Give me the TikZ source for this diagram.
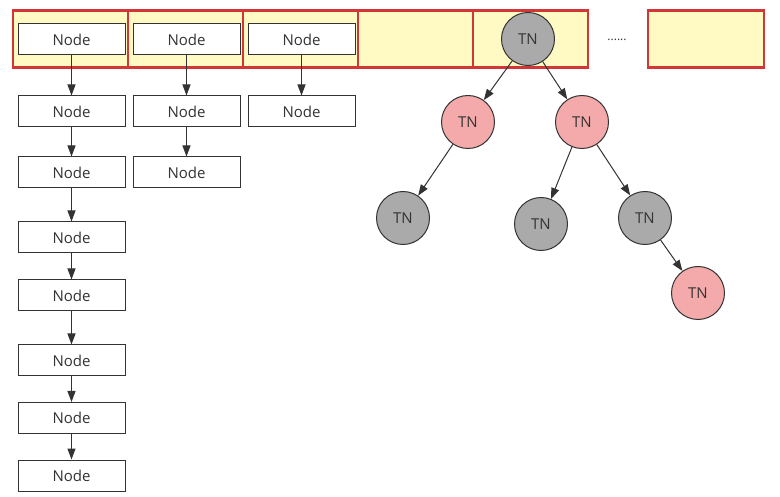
\documentclass[tikz,border=0pt]{standalone}
\usepackage{fontspec}
\setmainfont{Open Sans}
\usetikzlibrary{positioning, arrows.meta}
\definecolor{cellfill}{HTML}{FFF9C4}
\definecolor{cellline}{HTML}{D33636}
\definecolor{tngray}{HTML}{AAAAAA}
\definecolor{tnred}{HTML}{F4AAAA}
\definecolor{ink}{HTML}{333333}

\begin{document}
\begin{tikzpicture}[x=1pt, y=-1pt, font=\fontsize{15}{17}\selectfont,
    main/.style = {draw=ink, line width=1pt, fill=white, minimum width=107pt, minimum height=31pt, inner sep=0pt, text=ink},
    tn/.style = {draw=ink, circle, line width=1pt, minimum size=53pt, inner sep=0pt, text=ink},
    cell/.style = {draw=cellline, fill=cellfill, line width=2.5pt, minimum width=115pt, minimum height=57pt, inner sep=0pt},
    link/.style = {draw=ink, line width=1pt, -{Triangle[length=11pt, width=8pt]}}]
            \useasboundingbox (0,0) rectangle (780,497);

            % top bar
            \node[cell] (s1) at (70.5,39) {};
            \node[cell] (s2) at (185.5,39) {};
            \node[cell] (s3) at (300.5,39) {};
            \node[cell] (s4) at (415.5,39) {};
            \node[cell] (s5) at (530.5,39) {};
            \node[cell, minimum width=116pt] (s6) at (706,39) {};
            \node[text=ink, font=\fontsize{12}{13}\selectfont] (dots) at (617,40) {......};

            % lists
            \node[main] (a1) at (71.5,39.5) {Node};
            \node[main] (a2) at (71.5,111.5) {Node};
            \node[main] (a3) at (71.5,172.5) {Node};
            \node[main] (a4) at (71.5,237.5) {Node};
            \node[main] (a5) at (71.5,295.5) {Node};
            \node[main] (a6) at (71.5,360.5) {Node};
            \node[main] (a7) at (71.5,418) {Node};
            \node[main] (a8) at (71.5,475.5) {Node};
            \node[main] (b1) at (186.5,39.5) {Node};
            \node[main] (b2) at (186.5,111.5) {Node};
            \node[main] (b3) at (186.5,172.5) {Node};
            \node[main] (c1) at (301.5,39.5) {Node};
            \node[main] (c2) at (301.5,111.5) {Node};

            % tree
            \node[tn, fill=tngray] (t0) at (528,39) {TN};
            \node[tn, fill=tnred] (t1) at (468,122) {TN};
            \node[tn, fill=tnred] (t2) at (582,122) {TN};
            \node[tn, fill=tngray] (t3) at (403,218) {TN};
            \node[tn, fill=tngray] (t4) at (541,224) {TN};
            \node[tn, fill=tngray] (t5) at (645,218) {TN};
            \node[tn, fill=tnred] (t6) at (698,293) {TN};

            \draw[link] (a1) -- (a2);
            \draw[link] (a2) -- (a3);
            \draw[link] (a3) -- (a4);
            \draw[link] (a4) -- (a5);
            \draw[link] (a5) -- (a6);
            \draw[link] (a6) -- (a7);
            \draw[link] (a7) -- (a8);
            \draw[link] (b1) -- (b2);
            \draw[link] (b2) -- (b3);
            \draw[link] (c1) -- (c2);
            \draw[link] (t0) -- (t1);
            \draw[link] (t0) -- (t2);
            \draw[link] (t1) -- (t3);
            \draw[link] (t2) -- (t4);
            \draw[link] (t2) -- (t5);
            \draw[link] (t5) -- (t6);
        \end{tikzpicture}
\end{document}
